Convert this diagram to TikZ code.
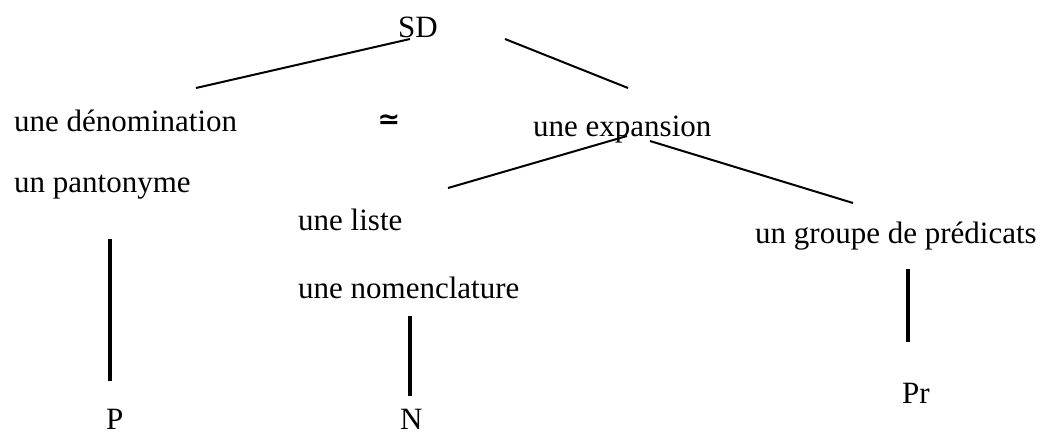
\documentclass[tikz,border=0pt]{standalone}
\usepackage{fontspec}
\setmainfont{Liberation Serif}
\newfontfamily\symfont{DejaVu Sans}
\usetikzlibrary{calc}
\tikzset{
  lbl/.style={font=\fontsize{31}{37}\selectfont, inner sep=0pt, anchor=base west},
  symb/.style={font=\symfont\bfseries\fontsize{27}{27}\selectfont, inner sep=0pt},
  branch/.style={line width=2pt},
  stem/.style={line width=4pt}
}
\begin{document}
\begin{tikzpicture}[x=1pt,y=-1pt]
\useasboundingbox (0,0) rectangle (1057,434);
% nodes
\node[lbl] (SD) at (398,37) {SD};
\node[lbl] (den) at (14,131) {une dénomination};
\node[lbl] (pan) at (14,192) {un pantonyme};
\node[symb] (sim) at (389,122) {≃};
\node[lbl] (exp) at (533,136) {une expansion};
\node[lbl] (liste) at (298,230) {une liste};
\node[lbl] (nomen) at (298,298) {une nomenclature};
\node[lbl] (grp) at (755,243) {un groupe de prédicats};
\node[lbl] (P) at (106,429) {P};
\node[lbl] (N) at (400,429) {N};
\node[lbl] (Pr) at (902,403) {Pr};
% branches
\draw[branch] ($(SD.base west)+(12,2)$) -- ($(den.base west)+(182,-43)$);
\draw[branch] ($(SD.base west)+(107,2)$) -- ($(exp.base west)+(95,-48)$);
\draw[branch] ($(exp.base west)+(94,0)$) -- ($(liste.base west)+(150,-42)$);
\draw[branch] ($(exp.base west)+(117,5)$) -- ($(grp.base west)+(98,-40)$);
% stems
\draw[stem] ($(pan.base west)+(96,47)$) -- ($(P.base west)+(4,-48)$);
\draw[stem] ($(nomen.base west)+(112,18)$) -- ($(N.base west)+(10,-33)$);
\draw[stem] ($(grp.base west)+(153,26)$) -- ($(Pr.base west)+(6,-61)$);
\end{tikzpicture}
\end{document}
